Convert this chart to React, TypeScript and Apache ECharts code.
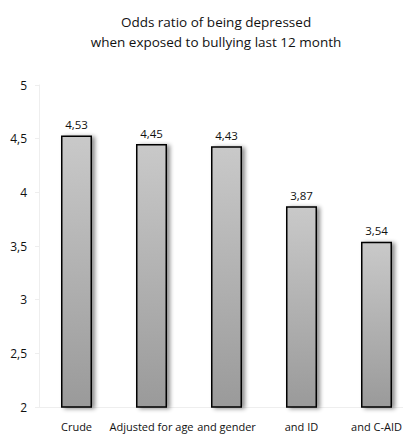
import React, { useEffect, useRef } from "react";
import * as echarts from "echarts";

const categories = ["Crude", "Adjusted for age", "and gender", "and ID", "and C-AID"];
const oddsRatios = [4.53, 4.45, 4.43, 3.87, 3.54];
const titleLines = ["Odds ratio of being depressed", "when exposed to bullying last 12 month"];

const fmt = (v: number, d: number) => v.toFixed(d).replace(".", ",");

export default function App() {
  const ref = useRef<HTMLDivElement>(null);
  useEffect(() => {
    const chart = echarts.init(ref.current!, null, { renderer: "svg" });
    chart.setOption({
      animation: false,
      backgroundColor: "#ffffff",
      textStyle: { fontFamily: "Open Sans" },
      graphic: [
        {
          type: "text",
          x: 216,
          y: 22,
          style: {
            text: titleLines[0],
            fontSize: 13.5,
            fontFamily: "Open Sans",
            fill: "#111",
            textAlign: "center",
            textVerticalAlign: "middle",
          },
        },
        {
          type: "text",
          x: 216,
          y: 42,
          style: {
            text: titleLines[1],
            fontSize: 13.5,
            fontFamily: "Open Sans",
            fill: "#111",
            textAlign: "center",
            textVerticalAlign: "middle",
          },
        },
      ],
      grid: { left: 39, top: 85, width: 375, bottom: 30, outerBoundsMode: "none", containLabel: false },
      xAxis: {
        type: "category",
        data: categories,
        axisLine: { show: true, lineStyle: { color: "#eeeeee" } },
        axisTick: { show: false },
        axisLabel: { color: "#111", fontSize: 11, margin: 14, interval: 0, fontFamily: "Open Sans" },
      },
      yAxis: {
        type: "value",
        min: 2,
        max: 5,
        interval: 0.5,
        axisLine: { show: true, lineStyle: { color: "#eeeeee" } },
        axisTick: { show: true, length: 4, lineStyle: { color: "#eeeeee" } },
        splitLine: { show: false },
        axisLabel: { color: "#111", fontSize: 12, margin: 12, formatter: (v: number) => (Number.isInteger(v) ? String(v) : fmt(v, 1)), fontFamily: "Open Sans" },
      },
      series: [
        {
          type: "bar",
          data: oddsRatios,
          barWidth: 31,
          itemStyle: {
            color: new echarts.graphic.LinearGradient(0, 0, 0, 1, [
              { offset: 0, color: "#c9c9c9" },
              { offset: 1, color: "#9a9a9a" },
            ]),
            borderColor: "#000000",
            borderWidth: 1.5,
            shadowColor: "rgba(0,0,0,0.45)",
            shadowBlur: 4,
            shadowOffsetX: 3,
            shadowOffsetY: 1,
          },
          label: {
            show: true,
            position: "top",
            distance: 5,
            color: "#111",
            fontSize: 11.5,
            fontFamily: "Open Sans",
            formatter: (p: any) => fmt(p.value, 2),
          },
        },
      ],
    });
    return () => chart.dispose();
  }, []);
  return <div ref={ref} style={{ position: "absolute", left: 0, top: 0, width: 403, height: 437 }} />;
}
